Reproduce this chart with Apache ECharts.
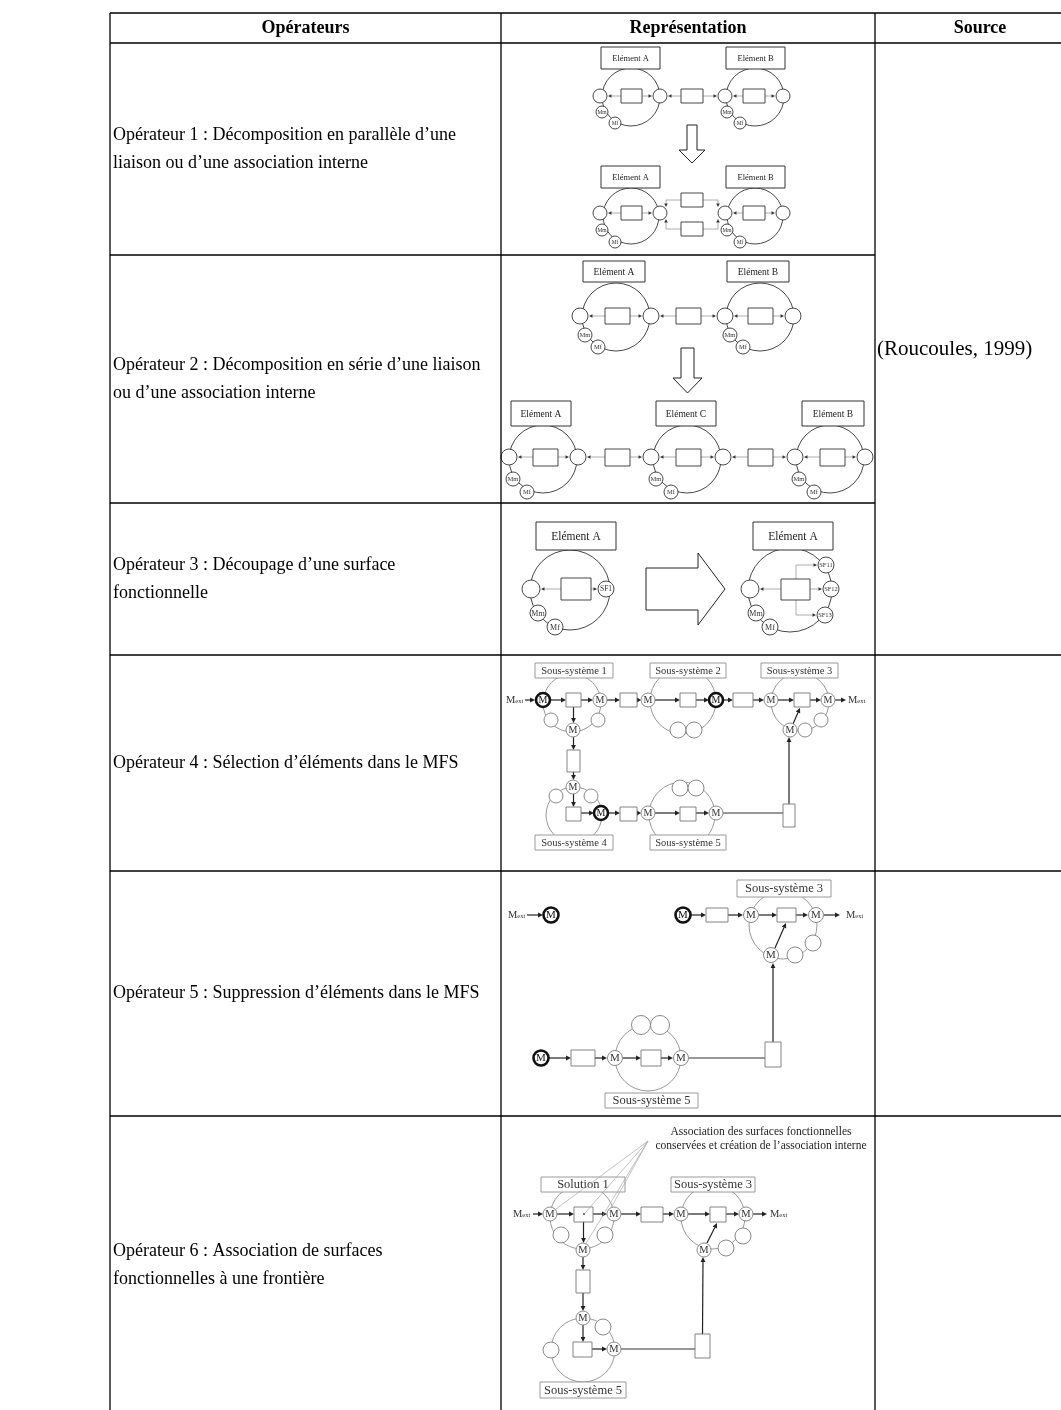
<!DOCTYPE html>
<html><head><meta charset="utf-8">
<script src="https://cdn.jsdelivr.net/npm/echarts@6/dist/echarts.min.js"></script>
<style>html,body{margin:0;padding:0;background:#fff}#c{width:1061px;height:1410px}</style>
</head><body><div id="c"></div><script>
const W = 1061, H = 1410;
const FONT = '"Liberation Serif","Times New Roman",serif';

// ---------- table content ----------
const headers = ['Opérateurs', 'Représentation', 'Source'];
const colX = [110, 501, 875, 1085];
const rowY = [13, 43, 255, 503, 655, 871, 1116, 1414];
const operatorLines = [
  ['Opérateur 1 : Décomposition en parallèle d’une', 'liaison ou d’une association interne'],
  ['Opérateur 2 : Décomposition en série d’une liaison', 'ou d’une association interne'],
  ['Opérateur 3 : Découpage d’une surface', 'fonctionnelle'],
  ['Opérateur 4 : Sélection d’éléments dans le MFS'],
  ['Opérateur 5 : Suppression d’éléments dans le MFS'],
  ['Opérateur 6 : Association de surfaces', 'fonctionnelles à une frontière']
];
const sourceLabel = '(Roucoules, 1999)';
const sourceRows = [0, 2];

const tableRules = [
  [colX[0], rowY[0], 1100, rowY[0]],
  [colX[0], rowY[1], 1100, rowY[1]],
  [colX[0], rowY[2], colX[2], rowY[2]],
  [colX[0], rowY[3], colX[2], rowY[3]],
  [colX[0], rowY[4], 1100, rowY[4]],
  [colX[0], rowY[5], 1100, rowY[5]],
  [colX[0], rowY[6], 1100, rowY[6]],
  [colX[0], rowY[0], colX[0], H],
  [colX[1], rowY[0], colX[1], H],
  [colX[2], rowY[0], colX[2], H]
];

// ---------- diagram elements ----------
// rings: [cx, cy, r, style]
const rings = [
  [631,97,29,'d'],[755,97,29,'d'],[631,216,28,'d'],[755,216,28,'d'],
  [616,317,34,'d'],[760,317,34,'d'],[543,459,34,'d'],[687,459,34,'d'],[830,459,34,'d'],
  [570,590,40,'d'],[790,590,42,'d'],
  [572,703,29,'g'],[683,701,33,'g'],[800,702,29,'g'],[574,815,28,'g'],[682,815,33,'g'],
  [783,925,34,'g'],[648,1058,33,'g'],
  [582,1217,32,'g'],[713,1217,32,'g'],[583,1350,32,'g']
];
// nodes: [cx, cy, r, label, fontSize, style]
const nodes = [
  [600,96,7,'',0,'d'],[660,96,7,'',0,'d'],[725,96,7,'',0,'d'],[783,96,7,'',0,'d'],
  [602,112,6,'Mm',5.5,'d'],[615,123,6,'Mf',5.5,'d'],[727,112,6,'Mm',5.5,'d'],[740,123,6,'Mf',5.5,'d'],
  [600,213,7,'',0,'d'],[660,213,7,'',0,'d'],[725,213,7,'',0,'d'],[783,213,7,'',0,'d'],
  [602,230,6,'Mm',5.5,'d'],[615,242,6,'Mf',5.5,'d'],[727,230,6,'Mm',5.5,'d'],[740,242,6,'Mf',5.5,'d'],
  [580,316,8,'',0,'d'],[651,316,8,'',0,'d'],[725,316,8,'',0,'d'],[793,316,8,'',0,'d'],
  [585,335,7,'Mm',6.5,'d'],[598,347,7,'Mf',6.5,'d'],[730,335,7,'Mm',6.5,'d'],[743,347,7,'Mf',6.5,'d'],
  [509,457,8,'',0,'d'],[578,457,8,'',0,'d'],[651,457,8,'',0,'d'],[723,457,8,'',0,'d'],[795,457,8,'',0,'d'],[865,457,8,'',0,'d'],
  [513,479,7,'Mm',6.5,'d'],[527,492,7,'Mf',6.5,'d'],[656,479,7,'Mm',6.5,'d'],[671,492,7,'Mf',6.5,'d'],[799,479,7,'Mm',6.5,'d'],[814,492,7,'Mf',6.5,'d'],
  [531,589,9,'',0,'d'],[606,589,8,'SF1',7.5,'d'],[538,613,8,'Mm',8,'d'],[555,627,8,'Mf',8,'d'],
  [750,589,9,'',0,'d'],[826,565,8,'SF11',6.5,'d'],[831,589,8,'SF12',6.5,'d'],[825,615,8,'SF13',6.5,'d'],[756,613,8,'Mm',8,'d'],[770,627,8,'Mf',8,'d'],
  // row 4
  [543,700,7,'M',10,'t'],[600,700,7,'M',10,'g'],[648,700,7,'M',10,'g'],[716,700,7,'M',10,'t'],[771,700,7,'M',10,'g'],[828,700,7,'M',10,'g'],
  [573,730,7,'M',10,'g'],[790,730,7,'M',10,'g'],[573,787,7,'M',10,'g'],[601,813,7,'M',10,'t'],[648,813,7,'M',10,'g'],[716,813,7,'M',10,'g'],
  [551,720,7,'',0,'g'],[598,720,7,'',0,'g'],[678,730,8,'',0,'g'],[694,730,8,'',0,'g'],[805,730,7,'',0,'g'],[821,720,7,'',0,'g'],
  [556,796,7,'',0,'g'],[591,796,7,'',0,'g'],[680,788,8,'',0,'g'],[696,788,8,'',0,'g'],
  // row 5
  [551,915,7.5,'M',11,'t'],[683,915,7.5,'M',11,'t'],[751,915,7.5,'M',11,'g'],[816,915,7.5,'M',11,'g'],[771,955,7.5,'M',11,'g'],
  [795,955,8,'',0,'g'],[813,943,8,'',0,'g'],
  [541,1058,7.5,'M',11,'t'],[615,1058,7.5,'M',11,'g'],[681,1058,7.5,'M',11,'g'],[641,1025,9.5,'',0,'g'],[660,1025,9.5,'',0,'g'],
  // row 6
  [550,1214,7,'M',10.5,'g'],[614,1214,7,'M',10.5,'g'],[681,1214,7,'M',10.5,'g'],[746,1214,7,'M',10.5,'g'],
  [583,1250,7,'M',10.5,'g'],[704,1250,7,'M',10.5,'g'],[583,1318,7,'M',10.5,'g'],[614,1349,7,'M',10.5,'g'],
  [561,1235,8,'',0,'g'],[605,1235,8,'',0,'g'],[726,1248,8,'',0,'g'],[743,1236,8,'',0,'g'],[551,1350,8,'',0,'g'],[603,1327,8,'',0,'g']
];
// labelled boxes: [x1, y1, x2, y2, label, fontSize, style]
const boxes = [
  [601,47,660,69,'Elément A',8.5,'d'],[726,47,785,69,'Elément B',8.5,'d'],
  [601,166,660,188,'Elément A',8.5,'d'],[726,166,785,188,'Elément B',8.5,'d'],
  [583,261,645,282,'Elément A',9.5,'d'],[727,261,789,282,'Elément B',9.5,'d'],
  [511,401,571,426,'Elément A',9.5,'d'],[656,401,716,426,'Elément C',9.5,'d'],[802,401,864,426,'Elément B',9.5,'d'],
  [536,522,616,550,'Elément A',11.5,'d'],[753,522,833,550,'Elément A',11.5,'d'],
  [535,663,613,678,'Sous-système 1',10.5,'g'],[650,663,726,678,'Sous-système 2',10.5,'g'],[761,663,838,678,'Sous-système 3',10.5,'g'],
  [535,835,613,850,'Sous-système 4',10.5,'g'],[650,835,726,850,'Sous-système 5',10.5,'g'],
  [737,880,831,897,'Sous-système 3',12.5,'g'],[605,1093,698,1108,'Sous-système 5',12.5,'g'],
  [541,1177,625,1192,'Solution 1',12.5,'g'],[671,1177,755,1192,'Sous-système 3',12.5,'g'],[540,1382,626,1398,'Sous-système 5',12.5,'g']
];
// plain rectangles: [x1, y1, x2, y2, style]
const rects = [
  [621,89,642,103,'d'],[681,89,703,103,'d'],[743,89,765,103,'d'],
  [621,206,642,220,'d'],[681,193,703,207,'d'],[681,222,703,236,'d'],[743,206,765,220,'d'],
  [605,308,630,324,'d'],[676,308,701,324,'d'],[748,308,773,324,'d'],
  [533,449,558,466,'d'],[605,449,630,466,'d'],[676,449,701,466,'d'],[748,449,773,466,'d'],[820,449,845,466,'d'],
  [561,578,591,600,'d'],[781,579,810,600,'d'],
  [566,693,581,707,'g'],[620,693,637,707,'g'],[680,693,696,707,'g'],[733,693,753,707,'g'],[794,693,810,707,'g'],
  [567,750,580,772,'g'],[566,807,581,821,'g'],[620,807,637,821,'g'],[680,807,696,821,'g'],[783,804,795,827,'g'],
  [706,908,728,922,'g'],[777,908,796,922,'g'],[765,1042,781,1067,'g'],[571,1050,595,1066,'g'],[641,1050,661,1066,'g'],
  [574,1207,593,1222,'g'],[641,1207,663,1222,'g'],[710,1207,726,1222,'g'],[576,1270,590,1293,'g'],[573,1342,592,1357,'g'],[695,1334,710,1358,'g']
];
// arrows / links: [x1, y1, x2, y2, style]  (head at the second point)
const arrows = [
  [621,96,608,96,'g'],[642,96,652,96,'g'],[681,96,668,96,'g'],[703,96,717,96,'g'],[743,96,733,96,'g'],[765,96,775,96,'g'],
  [621,213,608,213,'g'],[642,213,652,213,'g'],[743,213,733,213,'g'],[765,213,775,213,'g'],
  [681,200,666,200,'gn'],[681,229,666,229,'gn'],[703,200,718,200,'gn'],[703,229,718,229,'gn'],
  [666,200,666,207,'g'],[666,229,666,219,'g'],[718,200,718,207,'g'],[718,229,718,219,'g'],
  [605,316,589,316,'g'],[630,316,642,316,'g'],[676,316,660,316,'g'],[701,316,716,316,'g'],[748,316,734,316,'g'],[773,316,784,316,'g'],
  [533,457,518,457,'g'],[558,457,569,457,'g'],[605,457,587,457,'g'],[630,457,642,457,'g'],[676,457,660,457,'g'],
  [701,457,714,457,'g'],[748,457,732,457,'g'],[773,457,786,457,'g'],[820,457,804,457,'g'],[845,457,856,457,'g'],
  [561,589,541,589,'g'],[591,589,597,589,'g'],[781,589,760,589,'g'],[810,589,822,589,'g'],[796,565,817,565,'g'],[796,615,816,615,'g'],
  [796,579,796,565,'gn'],[796,600,796,615,'gn'],
  // row 4
  [525,700,535,700,'k'],[550,700,566,700,'k'],[581,700,593,700,'k'],[607,700,620,700,'k'],[637,700,641,700,'k'],
  [655,700,680,700,'k'],[696,700,709,700,'k'],[723,700,733,700,'k'],[753,700,764,700,'k'],[778,700,794,700,'k'],
  [810,700,821,700,'k'],[835,700,846,700,'k'],
  [573.5,707,573.5,723,'k'],[573.5,737,573.5,750,'k'],[573.5,772,573.5,780,'k'],[573.5,794,573.5,807,'k'],
  [581,813,594,813,'k'],[608,813,620,813,'k'],[637,813,641,813,'k'],[655,813,680,813,'k'],[696,813,709,813,'k'],
  [723,813,783,813,'n'],[789,804,789,737,'k'],[793,724,800,708,'k'],
  // row 5
  [527,915,543,915,'k'],[691,915,706,915,'k'],[728,915,743,915,'k'],[759,915,777,915,'k'],[796,915,808,915,'k'],[824,915,840,915,'k'],
  [775,948,786,923,'k'],[773,1042,773,963,'k'],
  [549,1058,571,1058,'k'],[595,1058,607,1058,'k'],[623,1058,641,1058,'k'],[661,1058,673,1058,'k'],[689,1058,765,1058,'n'],
  // row 6
  [533,1214,543,1214,'k'],[557,1214,574,1214,'k'],[593,1214,607,1214,'k'],[621,1214,641,1214,'k'],[663,1214,674,1214,'k'],
  [688,1214,710,1214,'k'],[726,1214,739,1214,'k'],[753,1214,767,1214,'k'],
  [583.5,1222,583.5,1243,'k'],[583,1257,583,1270,'k'],[583,1293,583,1311,'k'],[583,1325,583,1342,'k'],
  [592,1349,607,1349,'k'],[621,1349,695,1349,'n'],[702.5,1334,703,1257,'k'],[707,1243,717,1223,'k'],
  [648,1141,556,1209,'f'],[648,1141,585,1213,'f'],[648,1141,611,1208,'f'],[648,1141,585,1245,'f']
];
// hollow block arrows (outline points)
const blockArrows = [
  [[687,125],[697,125],[697,150],[705,150],[692,163],[679,150],[687,150]],
  [[681,348],[694,348],[694,378],[702,378],[687.5,393],[673,378],[681,378]],
  [[646,568],[698,568],[698,553],[725,589],[698,625],[698,610],[646,610]]
];
// M_ext flow labels: [x, y]
const mextLabels = [[506,700],[848,700],[508,915],[846,915],[513,1214],[770,1214]];
// annotation lines: [x, y, text]
const notes = [
  [761,1132,'Association des surfaces fonctionnelles'],
  [761,1146,'conservées et création de l’association interne']
];
const dots = [[584,1214]];

// ---------- styles ----------
const RING = {d:{stroke:'#333',lw:0.9}, g:{stroke:'#8c8c8c',lw:0.9}};
const NODE = {d:{stroke:'#333',lw:0.9,text:'#333'}, g:{stroke:'#8a8a8a',lw:1,text:'#333'}, t:{stroke:'#111',lw:2.6,text:'#111'}};
const BOX = {d:{stroke:'#333',lw:1,text:'#222'}, g:{stroke:'#9a9a9a',lw:1,text:'#333'}};
const RECT = {d:{stroke:'#333',lw:0.9}, g:{stroke:'#777',lw:0.9}};
const ARROW = {
  g:{stroke:'#9a9a9a',lw:0.8,head:[3.5,1.8],hf:'#333'},
  gn:{stroke:'#9a9a9a',lw:0.8},
  k:{stroke:'#222',lw:1.2,head:[5,2.4],hf:'#222'},
  n:{stroke:'#333',lw:1.2},
  f:{stroke:'#a8a8a8',lw:0.7}
};

function layer(arr, z, draw) {
  return {
    type:'custom', coordinateSystem:'cartesian2d', silent:true, clip:false, z:z,
    data: arr.map(r => Array.isArray(r[0]) ? [r[0][0], r[0][1]] : [r[0], r[1]]),
    renderItem: (params, api) => draw(arr[params.dataIndex],
      (x, y) => api.coord([x, y]), v => api.size([v, v])[0])
  };
}
function txt(x, y, text, font, fill, align) {
  return {type:'text', style:{x, y, text, font, fill, align: align || 'center', verticalAlign:'middle',
    textAlign: align || 'center', textVerticalAlign:'middle'}};
}

// derived text items
const headerItems = headers.map((h, i) => [(colX[i] + colX[i+1]) / 2, (rowY[0] + rowY[1]) / 2, h]);
const opItems = [];
operatorLines.forEach((lines, i) => {
  const cy = (rowY[i+1] + rowY[i+2]) / 2;
  const lh = 28;
  lines.forEach((t, j) => opItems.push([colX[0] + 3, cy + (j - (lines.length - 1) / 2) * lh, t]));
});
const sourceItems = [[colX[2] + 2, (rowY[sourceRows[0]+1] + rowY[sourceRows[1]+2]) / 2, sourceLabel]];

const series = [
  layer(rings, 2, (d, P, S) => { const c = P(d[0], d[1]); const s = RING[d[3]];
    return {type:'circle', shape:{cx:c[0], cy:c[1], r:S(d[2])}, style:{fill:'none', stroke:s.stroke, lineWidth:s.lw}}; }),
  layer(arrows.filter(a => a[4] !== 'f'), 3, drawArrow),
  layer(rects, 4, (d, P) => { const a = P(d[0], d[1]), b = P(d[2], d[3]); const s = RECT[d[4]];
    return {type:'rect', shape:{x:a[0], y:a[1], width:b[0]-a[0], height:b[1]-a[1]}, style:{fill:'#fff', stroke:s.stroke, lineWidth:s.lw}}; }),
  layer(blockArrows, 4, (d, P) => ({type:'polygon', shape:{points:d.map(p => P(p[0], p[1]))}, style:{fill:'#fff', stroke:'#222', lineWidth:1}})),
  layer(nodes, 5, (d, P, S) => { const c = P(d[0], d[1]); const s = NODE[d[5]];
    const ch = [{type:'circle', shape:{cx:c[0], cy:c[1], r:S(d[2])}, style:{fill:'#fff', stroke:s.stroke, lineWidth:s.lw}}];
    if (d[3]) ch.push(txt(c[0], c[1] + 0.5, d[3], d[4] + 'px ' + FONT, s.text));
    return {type:'group', children:ch}; }),
  layer(boxes, 5, (d, P) => { const a = P(d[0], d[1]), b = P(d[2], d[3]); const s = BOX[d[6]];
    return {type:'group', children:[
      {type:'rect', shape:{x:a[0], y:a[1], width:b[0]-a[0], height:b[1]-a[1]}, style:{fill:'#fff', stroke:s.stroke, lineWidth:s.lw}},
      txt((a[0]+b[0])/2, (a[1]+b[1])/2 + 0.5, d[4], d[5] + 'px ' + FONT, s.text)]}; }),
  layer(dots, 6, (d, P) => { const c = P(d[0], d[1]); return {type:'circle', shape:{cx:c[0], cy:c[1], r:0.9}, style:{fill:'#333'}}; }),
  layer(mextLabels, 6, (d, P) => { const c = P(d[0], d[1]);
    return {type:'text', style:{x:c[0], y:c[1], text:'{a|M}{b|ext}', align:'left', verticalAlign:'middle', textAlign:'left', textVerticalAlign:'middle',
      rich:{a:{font:'10.5px ' + FONT, fill:'#333'}, b:{font:'6.5px ' + FONT, fill:'#333', padding:[2,0,0,0]}}}}; }),
  layer(notes, 6, (d, P) => { const c = P(d[0], d[1]); return txt(c[0], c[1], d[2], '11.5px ' + FONT, '#222'); }),
  layer(arrows.filter(a => a[4] === 'f'), 8, drawArrow),
  layer(headerItems, 9, (d, P) => { const c = P(d[0], d[1]); return txt(c[0], c[1], d[2], 'bold 18px ' + FONT, '#000'); }),
  layer(opItems, 9, (d, P) => { const c = P(d[0], d[1]); return txt(c[0], c[1], d[2], '18px ' + FONT, '#000', 'left'); }),
  layer(sourceItems, 9, (d, P) => { const c = P(d[0], d[1]); return txt(c[0], c[1], d[2], '21px ' + FONT, '#000', 'left'); }),
  layer(tableRules, 10, (d, P) => { const a = P(d[0], d[1]), b = P(d[2], d[3]);
    return {type:'line', shape:{x1:a[0], y1:a[1], x2:b[0], y2:b[1]}, style:{stroke:'#000', lineWidth:1.3}}; })
];

function drawArrow(d, P) {
  const a = P(d[0], d[1]), b = P(d[2], d[3]); const s = ARROW[d[4]];
  const ch = [];
  let ex = b[0], ey = b[1];
  if (s.head) {
    const dx = b[0]-a[0], dy = b[1]-a[1]; const len = Math.hypot(dx, dy) || 1;
    const ux = dx/len, uy = dy/len, nx = -uy, ny = ux;
    const L = Math.min(s.head[0], len), hw = s.head[1];
    const bx = b[0] - ux*L, by = b[1] - uy*L;
    ex = bx; ey = by;
    ch.push({type:'polygon', shape:{points:[[b[0],b[1]],[bx+nx*hw,by+ny*hw],[bx-nx*hw,by-ny*hw]]}, style:{fill:s.hf}});
  }
  ch.unshift({type:'line', shape:{x1:a[0], y1:a[1], x2:ex, y2:ey}, style:{stroke:s.stroke, lineWidth:s.lw}});
  return {type:'group', children:ch};
}

const chart = echarts.init(document.getElementById('c'), null, {renderer:'canvas'});
chart.setOption({
  animation:false,
  backgroundColor:'#fff',
  grid:{left:0, right:0, top:0, bottom:0},
  xAxis:{type:'value', min:0, max:W, show:false},
  yAxis:{type:'value', min:0, max:H, inverse:true, show:false},
  series:series
});
</script></body></html>
